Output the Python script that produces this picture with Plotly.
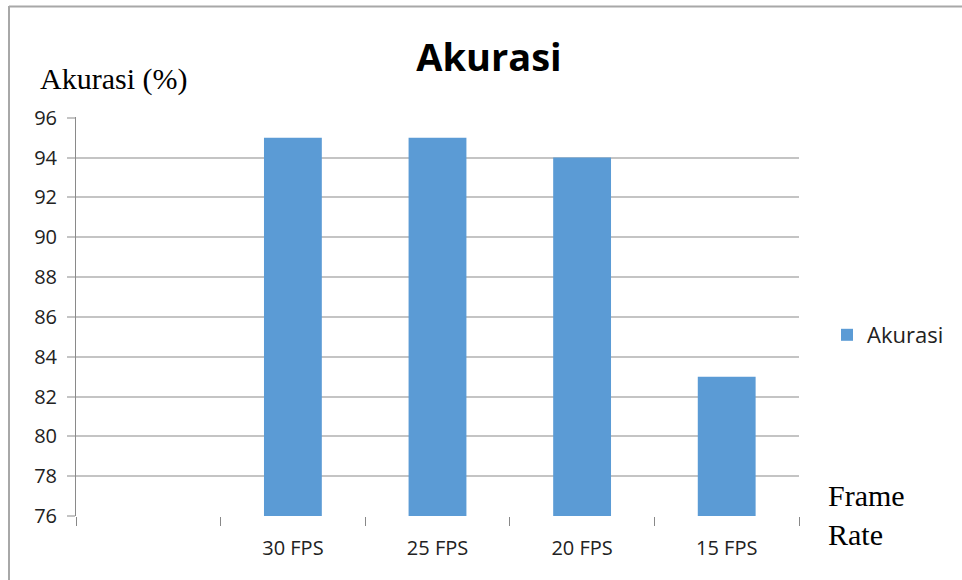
import plotly.graph_objects as go

categories = [" ", "30 FPS", "25 FPS", "20 FPS", "15 FPS"]
akurasi = [None, 95, 95, 94, 83]
y_ticks = [76, 78, 80, 82, 84, 86, 88, 90, 92, 94, 96]

W, H = 962, 580
L, R, T, B = 76, 163, 117, 64
pw, ph = W - L - R, H - T - B

fig = go.Figure()
fig.add_trace(go.Bar(
    x=categories, y=akurasi, name="Akurasi",
    marker=dict(color="#5B9BD5", line=dict(width=0)),
    width=0.4, showlegend=True,
))

fig.update_layout(
    width=W, height=H,
    margin=dict(l=L, r=R, t=T, b=B),
    paper_bgcolor="white", plot_bgcolor="white",
    title=dict(text="<b>Akurasi</b>", x=489 / W, xanchor="center",
               y=1 - 58 / H, yanchor="middle",
               font=dict(family="Open Sans", size=38, color="black")),
    font=dict(family="Open Sans", color="black"),
    showlegend=True,
    legend=dict(x=(827 - L) / pw, y=(H - B - 335) / ph, xanchor="left", yanchor="middle",
                font=dict(family="Open Sans", size=22, color="#222"),
                itemwidth=30, bgcolor="rgba(0,0,0,0)"),
    bargap=0.6,
)

fig.update_xaxes(
    type="category", categoryorder="array", categoryarray=categories,
    tickson="boundaries", ticks="outside", ticklen=9, tickcolor="#888", tickwidth=1,
    ticklabelstandoff=18,
    showgrid=False, showline=False, zeroline=False,
    tickfont=dict(family="Open Sans", size=20, color="#222"),
)
fig.update_yaxes(
    range=[76, 96.04], tickvals=y_ticks,
    showgrid=True, gridcolor="#c4c4c4", gridwidth=2,
    ticks="outside", ticklen=8, tickcolor="#c4c4c4", tickwidth=2,
    ticklabelstandoff=6,
    showline=True, linecolor="#8a8a8a", linewidth=1,
    zeroline=False,
    tickfont=dict(family="Open Sans", size=20, color="#222"),
)

fig.add_annotation(text="Akurasi (%)", xref="paper", yref="paper",
                   x=(38 - L) / pw, y=(H - B - 79) / ph, xanchor="left", yanchor="middle",
                   showarrow=False, font=dict(family="Liberation Serif", size=30, color="black"))
fig.add_annotation(text="Frame<br>Rate", xref="paper", yref="paper", align="left",
                   x=(826 - L) / pw, y=(H - B - 515) / ph, xanchor="left", yanchor="middle",
                   showarrow=False, font=dict(family="Liberation Serif", size=30, color="black"))

# outer frame (top and left)
fig.add_shape(type="line", xref="paper", yref="paper",
              x0=(9 - L) / pw, x1=(W - L) / pw, y0=(H - B - 6.5) / ph, y1=(H - B - 6.5) / ph,
              line=dict(color="#a8a8a8", width=2))
fig.add_shape(type="line", xref="paper", yref="paper",
              x0=(9 - L) / pw, x1=(9 - L) / pw, y0=(H - B - 6) / ph, y1=(H - B - H) / ph,
              line=dict(color="#a8a8a8", width=2))

fig.write_html("out.html", config={"displayModeBar": False},
               post_script="document.body.style.margin='0';")
